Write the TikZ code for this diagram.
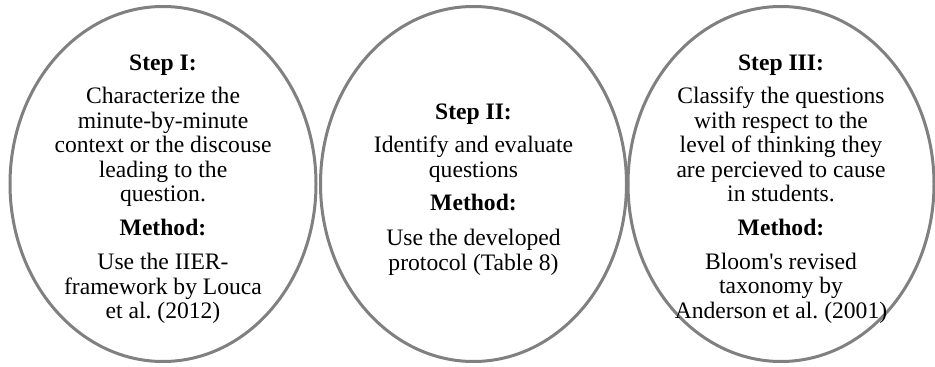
\documentclass[tikz,border=0pt]{standalone}
\usepackage{fontspec}
\setmainfont{Liberation Serif}
\usetikzlibrary{shapes.geometric}
\frenchspacing

\begin{document}
\begin{tikzpicture}[x=1pt,y=1pt,
    stepcircle/.style={ellipse,draw=black!50,line width=3pt,minimum width=306pt,minimum height=355pt,inner sep=0pt},
    steptext/.style={align=center,inner sep=0pt,font=\fontsize{23.6pt}{24.4pt}\selectfont}]
    \useasboundingbox (0,0) rectangle (935,367);
    \node[stepcircle] (stepone) at (163,183) {};
    \node[stepcircle] (steptwo) at (473.5,183) {};
    \node[stepcircle] (stepthree) at (781,183) {};
    \node[steptext] (stepone text) at ([yshift=-5pt]stepone.center) {\textbf{Step I:}\\[9.5pt]
        Characterize the\\ minute-by-minute\\ context or the discouse\\ leading to the\\ question.\\[10pt]
        \textbf{Method:}\\[9.5pt] Use the IIER-\\ framework by Louca\\ et al. (2012)};
    \node[steptext] (steptwo text) at ([yshift=-5.5pt]steptwo.center) {\textbf{Step II:}\\[9pt]
        Identify and evaluate\\ questions\\[9pt]
        \textbf{Method:}\\[10.5pt] Use the developed\\ protocol (Table 8)};
    \node[steptext] (stepthree text) at ([yshift=-5pt]stepthree.center) {\textbf{Step III:}\\[9pt]
        Classify the questions\\ with respect to the\\ level of thinking they\\ are percieved to cause\\ in students.\\[9.5pt]
        \textbf{Method:}\\[9.5pt] Bloom\textquotesingle s revised\\ taxonomy by\\ Anderson et al. (2001)};
\end{tikzpicture}
\end{document}
